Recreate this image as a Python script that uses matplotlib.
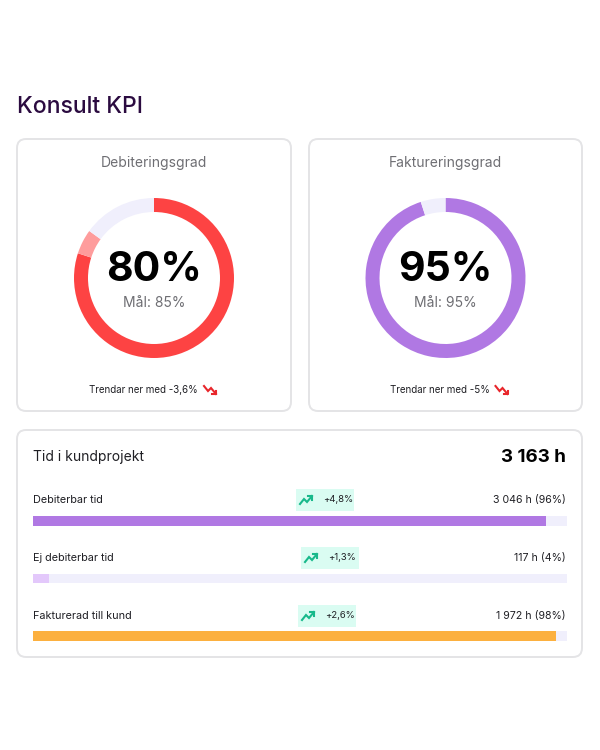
import matplotlib.pyplot as plt
from matplotlib.patches import FancyBboxPatch, Rectangle

plt.rcParams['font.family'] = ['Inter', 'DejaVu Sans']

# data
gauge_titles = ['Debiteringsgrad', 'Faktureringsgrad']
gauge_values = [80, 95]
gauge_goals = [85, 95]
gauge_trends = ['Trendar ner med -3,6%', 'Trendar ner med -5%']
gauge_colors = ['#fd4343', '#b078e3']
goal_colors = ['#fe9c9c', '#b078e3']

total_label = 'Tid i kundprojekt'
total_value = '3 163 h'
row_labels = ['Debiterbar tid', 'Ej debiterbar tid', 'Fakturerad till kund']
row_pct = [96, 3, 98]
row_values = ['3 046 h (96%)', '117 h (4%)', '1 972 h (98%)']
row_changes = ['+4,8%', '+1,3%', '+2,6%']
row_colors = ['#b078e3', '#e3c8fb', '#fcb03f']

TRACK = '#f0effc'
W, H = 600, 750

fig = plt.figure(figsize=(6, 7.5), dpi=100)
ax = fig.add_axes([0, 0, 1, 1])
ax.set_xlim(0, W)
ax.set_ylim(H, 0)
ax.axis('off')


def card(x0, y0, x1, y1):
    ax.add_patch(FancyBboxPatch((x0, y0), x1 - x0, y1 - y0,
                                boxstyle='round,pad=0,rounding_size=9',
                                fc='white', ec='#e4e4e6', lw=1.4, zorder=1))


def trend_icon(x, y, color, up=True):
    s = -1 if up else 1
    xs = [x - 6, x - 2, x + 1, x + 6]
    ys = [y - s * 4, y + s * 1, y - s * 2, y + s * 4]
    ax.plot(xs, ys, color=color, lw=1.5, solid_joinstyle='miter', zorder=5)
    ax.plot([x + 2, x + 6, x + 6], [y + s * 4, y + s * 4, y + s * 0.5],
            color=color, lw=1.5, zorder=5)


ax.text(17, 107, 'Konsult KPI', fontsize=16.5, fontweight='medium',
        color='#2b0b40', va='center', ha='left')

# gauge cards
card_x = [(17, 291), (309, 582)]
for i, (x0, x1) in enumerate(card_x):
    card(x0, 139, x1, 411)
    cx = (x0 + x1) / 2
    ax.text(cx, 163, gauge_titles[i], fontsize=10, color='#6e6e73',
            ha='center', va='center')

    r = 80
    pax = fig.add_axes([(cx - r) / W, (H - 278 - r) / H, 2 * r / W, 2 * r / H])
    v, g = gauge_values[i], gauge_goals[i]
    sizes = [v, g - v, 100 - g]
    colors = [gauge_colors[i], goal_colors[i], TRACK]
    pax.pie(sizes, colors=colors, startangle=90, counterclock=False,
            wedgeprops=dict(width=0.175, linewidth=0))
    pax.set_xlim(-1, 1)
    pax.set_ylim(-1, 1)
    pax.axis('off')

    ax.text(cx, 270, f'{v}%', fontsize=29.5, fontweight='bold', color='black',
            ha='center', va='center', zorder=6)
    ax.text(cx, 303, f'Mål: {g}%', fontsize=10, color='#6e6e73',
            ha='center', va='center', zorder=6)
    ax.text(cx + 44, 390, gauge_trends[i], fontsize=7, color='#1f1f24',
            ha='right', va='center')
    trend_icon(cx + 56, 390, '#e8262b', up=False)

# time card
card(17, 430, 582, 657)
ax.text(33, 457, total_label, fontsize=10, color='#1f1f24', ha='left', va='center')
ax.text(566, 457, total_value, fontsize=13.5, fontweight='bold', color='black',
        ha='right', va='center')

row_y = [500, 558, 616]
badge_x = [296, 301, 298]
for i, y in enumerate(row_y):
    ax.text(33, y, row_labels[i], fontsize=7.8, color='#1f1f24', ha='left', va='center')
    ax.text(566, y, row_values[i], fontsize=7.6, color='#1f1f24', ha='right', va='center')
    bx = badge_x[i]
    ax.add_patch(Rectangle((bx, y - 11), 58, 22, fc='#dafcf2', ec='none', zorder=2))
    trend_icon(bx + 10, y, '#18b98b', up=True)
    ax.text(bx + 27, y, row_changes[i], fontsize=6.8, color='#1f1f24',
            ha='left', va='center', zorder=5)

# progress bars
step = 57.8
top, bottom = 510, 647
bax = fig.add_axes([33 / W, (H - bottom) / H, 534 / W, (bottom - top) / H])
idx = list(range(len(row_pct)))
bh = 10 / step
bax.barh(idx, [100] * len(idx), height=bh, color=TRACK, lw=0)
bax.barh(idx, row_pct, height=bh, color=row_colors, lw=0)
bax.set_xlim(0, 100)
bax.set_ylim(2 + (bottom - 636) / step, -(521 - top) / step)
bax.axis('off')

fig.savefig('out.png', dpi=100, facecolor='white')
